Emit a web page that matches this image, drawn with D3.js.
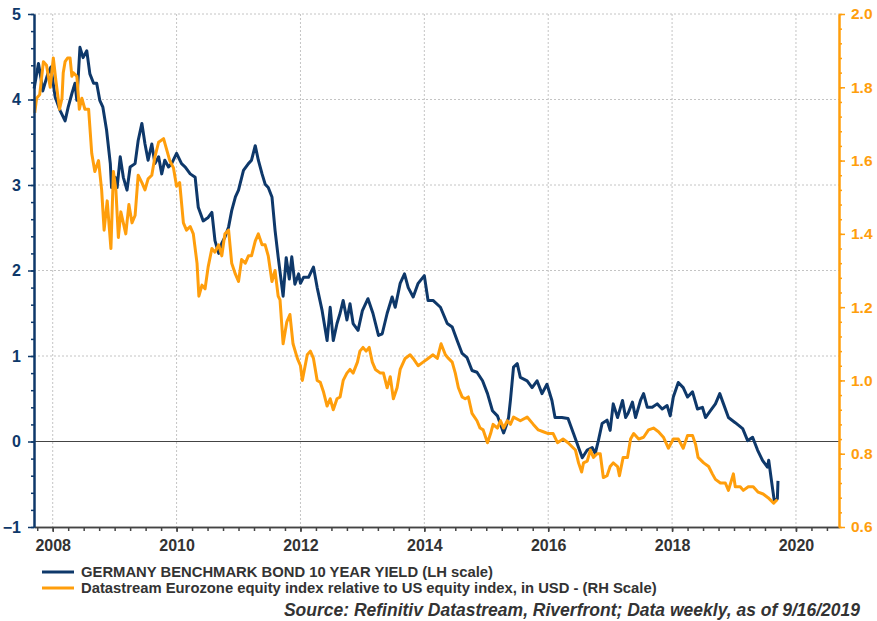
<!DOCTYPE html>
<html>
<head>
<meta charset="utf-8">
<script src="https://cdn.jsdelivr.net/npm/d3@7"></script>
<style>
body { margin: 0; background: #fff; }
svg { display: block; font-family: "Liberation Sans", Arial, sans-serif; }
</style>
</head>
<body>
<svg width="877" height="621"></svg>
<script>
// Germany 10y bund yield (LH scale), time as decimal years
const yieldT = [
    2007.70, 2007.77, 2007.81, 2007.84, 2007.92, 2007.97,
    2008.04, 2008.12, 2008.20, 2008.25, 2008.31, 2008.36, 2008.39, 2008.44, 2008.49, 2008.55, 2008.60, 2008.66, 2008.71, 2008.76, 2008.81, 2008.87, 2008.93, 2008.95,
    2009.01, 2009.04, 2009.09, 2009.14, 2009.20, 2009.25, 2009.33, 2009.38, 2009.44, 2009.49, 2009.54, 2009.60, 2009.65, 2009.71, 2009.76, 2009.81, 2009.87, 2009.92,
    2010.00, 2010.08, 2010.14, 2010.22, 2010.30, 2010.35, 2010.43, 2010.51, 2010.57, 2010.62, 2010.68, 2010.73, 2010.78, 2010.84, 2010.89, 2010.95,
    2011.00, 2011.08, 2011.16, 2011.21, 2011.27, 2011.32, 2011.38, 2011.43, 2011.48, 2011.54, 2011.59, 2011.64, 2011.72, 2011.77, 2011.82, 2011.86, 2011.91, 2011.97,
    2012.00, 2012.05, 2012.13, 2012.21, 2012.27, 2012.35, 2012.43, 2012.48, 2012.53, 2012.59, 2012.64, 2012.69, 2012.75, 2012.80, 2012.85, 2012.93,
    2013.00, 2013.09, 2013.17, 2013.26, 2013.32, 2013.40, 2013.48, 2013.53, 2013.61, 2013.68, 2013.74, 2013.82, 2013.90,
    2014.00, 2014.06, 2014.14, 2014.26, 2014.37, 2014.45, 2014.53, 2014.61, 2014.69, 2014.77, 2014.85, 2014.94,
    2015.02, 2015.10, 2015.18, 2015.28, 2015.32, 2015.36, 2015.39, 2015.44, 2015.50, 2015.55, 2015.66, 2015.74, 2015.82, 2015.90, 2015.98,
    2016.06, 2016.11, 2016.22, 2016.32, 2016.41, 2016.49, 2016.55, 2016.63, 2016.71, 2016.76, 2016.81, 2016.87, 2016.95,
    2017.00, 2017.05, 2017.12, 2017.20, 2017.25, 2017.29, 2017.36, 2017.41, 2017.49, 2017.54, 2017.60, 2017.68, 2017.76, 2017.84, 2017.92, 2017.97,
    2018.02, 2018.10, 2018.18, 2018.25, 2018.33, 2018.41, 2018.49, 2018.54, 2018.62, 2018.70, 2018.77, 2018.83, 2018.91,
    2019.02, 2019.14, 2019.22, 2019.30, 2019.38, 2019.46, 2019.54, 2019.56, 2019.62, 2019.65, 2019.70, 2019.71
];
const yieldV = [
    4.13, 4.42, 4.25, 4.10, 4.30, 4.38,
    4.03, 3.87, 3.75, 3.91, 4.07, 4.19, 3.99, 4.61, 4.49, 4.57, 4.30, 4.19, 4.19, 3.99, 3.91, 3.64, 3.25, 2.97,
    3.09, 2.97, 3.33, 3.09, 2.94, 3.21, 3.25, 3.52, 3.72, 3.48, 3.29, 3.48, 3.25, 3.33, 3.13, 3.29, 3.21, 3.25,
    3.37, 3.25, 3.21, 3.13, 3.09, 2.74, 2.58, 2.62, 2.68, 2.35, 2.20, 2.32, 2.39, 2.51, 2.70, 2.86,
    2.94, 3.17, 3.25, 3.29, 3.46, 3.29, 3.13, 3.01, 2.97, 2.86, 2.47, 2.16, 1.70, 2.15, 1.90, 2.16, 1.84, 1.96,
    1.85, 1.92, 1.92, 2.04, 1.80, 1.53, 1.18, 1.57, 1.18, 1.38, 1.50, 1.65, 1.42, 1.61, 1.38, 1.30,
    1.53, 1.67, 1.50, 1.24, 1.26, 1.50, 1.69, 1.57, 1.85, 1.96, 1.80, 1.69, 1.85,
    1.94, 1.65, 1.65, 1.57, 1.38, 1.34, 1.18, 1.03, 0.98, 0.83, 0.81, 0.71,
    0.56, 0.36, 0.30, 0.10, 0.18, 0.28, 0.48, 0.87, 0.91, 0.75, 0.71, 0.63, 0.71, 0.56, 0.67,
    0.48, 0.28, 0.28, 0.27, 0.09, -0.07, -0.19, -0.10, -0.07, -0.14, 0.01, 0.21, 0.25,
    0.13, 0.44, 0.28, 0.48, 0.28, 0.33, 0.46, 0.28, 0.48, 0.56, 0.40, 0.40, 0.44, 0.38, 0.42, 0.30,
    0.52, 0.69, 0.63, 0.52, 0.58, 0.38, 0.40, 0.28, 0.36, 0.44, 0.56, 0.44, 0.28,
    0.22, 0.15, 0.01, 0.05, -0.10, -0.22, -0.30, -0.22, -0.54, -0.69, -0.67, -0.46
];

// Eurozone vs US equity relative index (RH scale)
const equityT = [
    2007.71, 2007.74, 2007.79, 2007.85, 2007.90, 2007.96,
    2008.01, 2008.05, 2008.11, 2008.15, 2008.17, 2008.20, 2008.24, 2008.28, 2008.31, 2008.33, 2008.39, 2008.43, 2008.47, 2008.52, 2008.58, 2008.63, 2008.68, 2008.74, 2008.79, 2008.83, 2008.88, 2008.94, 2008.98,
    2009.02, 2009.06, 2009.10, 2009.14, 2009.18, 2009.23, 2009.28, 2009.33, 2009.38, 2009.44, 2009.49, 2009.54, 2009.60, 2009.65, 2009.71, 2009.79, 2009.84, 2009.89, 2009.95,
    2010.00, 2010.05, 2010.11, 2010.16, 2010.22, 2010.27, 2010.33, 2010.36, 2010.41, 2010.46, 2010.51, 2010.57, 2010.62, 2010.68, 2010.73, 2010.78, 2010.84, 2010.89, 2010.95,
    2011.00, 2011.05, 2011.11, 2011.16, 2011.21, 2011.27, 2011.32, 2011.38, 2011.43, 2011.48, 2011.54, 2011.59, 2011.64, 2011.67, 2011.72, 2011.78, 2011.83, 2011.88, 2011.95,
    2012.00, 2012.03, 2012.11, 2012.16, 2012.21, 2012.27, 2012.32, 2012.37, 2012.43, 2012.48, 2012.53, 2012.59, 2012.64, 2012.69, 2012.75, 2012.80, 2012.85, 2012.92, 2012.96,
    2013.01, 2013.06, 2013.11, 2013.16, 2013.21, 2013.29, 2013.34, 2013.40, 2013.45, 2013.50, 2013.56, 2013.61, 2013.69, 2013.77, 2013.82, 2013.90, 2013.98,
    2014.06, 2014.14, 2014.21, 2014.27, 2014.34, 2014.39, 2014.45, 2014.50, 2014.55, 2014.61, 2014.66, 2014.71, 2014.77, 2014.85, 2014.90, 2014.95,
    2015.02, 2015.07, 2015.11, 2015.18, 2015.23, 2015.28, 2015.34, 2015.39, 2015.44, 2015.55, 2015.66, 2015.76, 2015.84, 2015.92,
    2016.00, 2016.08, 2016.15, 2016.24, 2016.32, 2016.41, 2016.44, 2016.49, 2016.54, 2016.57, 2016.63, 2016.68, 2016.73, 2016.79, 2016.84, 2016.89, 2016.95,
    2017.00, 2017.05, 2017.12, 2017.15, 2017.21, 2017.28, 2017.33, 2017.38, 2017.46, 2017.54, 2017.62, 2017.70, 2017.78, 2017.86, 2017.94,
    2018.02, 2018.10, 2018.18, 2018.25, 2018.33, 2018.38, 2018.42, 2018.51, 2018.59, 2018.65, 2018.70, 2018.78, 2018.86, 2018.91, 2018.99,
    2019.02, 2019.10, 2019.15, 2019.23, 2019.31, 2019.39, 2019.47, 2019.55, 2019.64, 2019.70
];
const equityV = [
    1.73, 1.77, 1.78, 1.87, 1.86, 1.80,
    1.88, 1.82, 1.74, 1.77, 1.84, 1.87, 1.88, 1.88, 1.83, 1.84, 1.83, 1.74, 1.77, 1.74, 1.74, 1.62, 1.57, 1.60, 1.52, 1.41, 1.49, 1.36, 1.57,
    1.52, 1.39, 1.46, 1.43, 1.40, 1.48, 1.43, 1.45, 1.56, 1.54, 1.52, 1.55, 1.56, 1.61, 1.65, 1.66, 1.63, 1.60, 1.58,
    1.53, 1.54, 1.43, 1.41, 1.42, 1.40, 1.32, 1.23, 1.26, 1.25, 1.31, 1.36, 1.35, 1.37, 1.34, 1.40, 1.41, 1.32, 1.29,
    1.27, 1.33, 1.32, 1.34, 1.34, 1.38, 1.40, 1.37, 1.37, 1.34, 1.27, 1.30, 1.23, 1.22, 1.10, 1.16, 1.18, 1.10, 1.06,
    1.04, 1.00, 1.07, 1.08, 1.06, 1.00, 0.995, 0.97, 0.93, 0.95, 0.92, 0.95, 0.955, 1.00, 1.02, 1.03, 1.02, 1.05, 1.08,
    1.09, 1.08, 1.09, 1.05, 1.03, 1.02, 1.02, 0.98, 1.01, 0.95, 0.98, 1.03, 1.06, 1.07, 1.06, 1.04, 1.05,
    1.06, 1.07, 1.06, 1.10, 1.07, 1.06, 1.05, 1.02, 0.98, 0.955, 0.95, 0.955, 0.91, 0.89, 0.87, 0.865,
    0.83, 0.855, 0.88, 0.87, 0.89, 0.87, 0.89, 0.88, 0.90, 0.89, 0.90, 0.88, 0.865, 0.86,
    0.855, 0.855, 0.83, 0.84, 0.83, 0.815, 0.81, 0.775, 0.75, 0.775, 0.78, 0.81, 0.79, 0.80, 0.80, 0.735, 0.74,
    0.765, 0.775, 0.765, 0.74, 0.79, 0.79, 0.84, 0.855, 0.84, 0.845, 0.865, 0.87, 0.86, 0.845, 0.815,
    0.84, 0.84, 0.815, 0.85, 0.85, 0.825, 0.79, 0.775, 0.765, 0.745, 0.73, 0.72, 0.72, 0.70, 0.745,
    0.71, 0.71, 0.70, 0.71, 0.71, 0.695, 0.69, 0.68, 0.665, 0.675
];

const yearTicks = [2008, 2010, 2012, 2014, 2016, 2018, 2020];
const leftTicks = [-1, 0, 1, 2, 3, 4, 5];
const rightTicks = [0.6, 0.8, 1.0, 1.2, 1.4, 1.6, 1.8, 2.0];

const legendLabels = [
    'GERMANY BENCHMARK BOND 10 YEAR YIELD (LH scale)',
    'Datastream Eurozone equity index relative to US equity index, in USD - (RH Scale)'
];
const sourceText = 'Source: Refinitiv Datastream, Riverfront; Data weekly, as of 9/16/2019';

const navy = '#0e386a';
const orange = '#ff9e0c';

const svg = d3.select('svg');
const width = +svg.attr('width');
const height = +svg.attr('height');
const margin = { top: 14, right: 38, bottom: 94, left: 34 };
const innerWidth = width - margin.left - margin.right;
const innerHeight = height - margin.top - margin.bottom;

const xScale = d3.scaleLinear().domain([2007.698, 2020.695]).range([0, innerWidth]);
const yLeft = d3.scaleLinear().domain([-1, 5]).range([innerHeight, 0]);
const yRight = d3.scaleLinear().domain([0.6, 2.0]).range([innerHeight, 0]);

const g = svg.append('g')
    .attr('transform', `translate(${margin.left}, ${margin.top})`);

// gridlines
g.selectAll('.hgrid')
    .data([1, 2, 3, 4, 5])
    .enter().append('line')
    .attr('x1', 0).attr('x2', innerWidth)
    .attr('y1', d => yLeft(d)).attr('y2', d => yLeft(d))
    .attr('stroke', '#c4c4c4')
    .attr('stroke-dasharray', '2,2');

g.selectAll('.vgrid')
    .data(yearTicks)
    .enter().append('line')
    .attr('x1', d => xScale(d)).attr('x2', d => xScale(d))
    .attr('y1', 0).attr('y2', innerHeight)
    .attr('stroke', '#c4c4c4')
    .attr('stroke-dasharray', '2,2');

// zero line
g.append('line')
    .attr('x1', 0).attr('x2', innerWidth)
    .attr('y1', yLeft(0)).attr('y2', yLeft(0))
    .attr('stroke', '#444')
    .attr('stroke-width', 1.2);

// series
const yieldData = d3.zip(yieldT, yieldV);
const equityData = d3.zip(equityT, equityV);

g.append('path')
    .datum(yieldData)
    .attr('fill', 'none')
    .attr('stroke', navy)
    .attr('stroke-width', 3)
    .attr('stroke-linejoin', 'round')
    .attr('d', d3.line().x(d => xScale(d[0])).y(d => yLeft(d[1])));

g.append('path')
    .datum(equityData)
    .attr('fill', 'none')
    .attr('stroke', orange)
    .attr('stroke-width', 3)
    .attr('stroke-linejoin', 'round')
    .attr('d', d3.line().x(d => xScale(d[0])).y(d => yRight(d[1])));

// axes
const styleAxis = (axisG, color, lineWidth) => {
    axisG.attr('font-family', null).attr('font-size', null);
    axisG.select('.domain').attr('stroke', color).attr('stroke-width', lineWidth);
    axisG.selectAll('.tick line').attr('stroke', color).attr('stroke-width', 1.5);
};

const stepRange = (a, b, s) => d3.range(Math.round((b - a) / s) + 1).map(i => +(a + i * s).toFixed(3));

// minor ticks (no labels)
const xMinorG = g.append('g')
    .attr('transform', `translate(0, ${innerHeight})`)
    .call(d3.axisBottom(xScale).tickValues(stepRange(2007.75, 2020.5, 0.25)).tickSize(4).tickSizeOuter(0));
styleAxis(xMinorG, '#444', 1.5);
xMinorG.selectAll('text').remove();

const xAxisG = g.append('g')
    .attr('transform', `translate(0, ${innerHeight})`)
    .call(d3.axisBottom(xScale).tickValues(yearTicks).tickSize(5).tickSizeOuter(0).tickPadding(8).tickFormat(d3.format('d')));
styleAxis(xAxisG, '#444', 1.5);
xAxisG.selectAll('text')
    .attr('fill', '#333')
    .style('font-size', '16px')
    .style('font-weight', 'bold');

const yMinorG = g.append('g')
    .call(d3.axisLeft(yLeft).tickValues(stepRange(-1, 5, 0.2)).tickSize(3).tickSizeOuter(0));
styleAxis(yMinorG, navy, 2);
yMinorG.selectAll('text').remove();

const yLeftG = g.append('g')
    .call(d3.axisLeft(yLeft).tickValues(leftTicks).tickSize(6).tickSizeOuter(0).tickPadding(7).tickFormat(d3.format('d')));
styleAxis(yLeftG, navy, 2);
yLeftG.selectAll('text')
    .attr('fill', navy)
    .style('font-size', '16px')
    .style('font-weight', 'bold');

const yRightMinorG = g.append('g')
    .attr('transform', `translate(${innerWidth}, 0)`)
    .call(d3.axisRight(yRight).tickValues(stepRange(0.6, 2.0, 0.04)).tickSize(3).tickSizeOuter(0));
styleAxis(yRightMinorG, orange, 2);
yRightMinorG.selectAll('text').remove();

const yRightG = g.append('g')
    .attr('transform', `translate(${innerWidth}, 0)`)
    .call(d3.axisRight(yRight).tickValues(rightTicks).tickSize(6).tickSizeOuter(0).tickPadding(6).tickFormat(d3.format('.1f')));
styleAxis(yRightG, orange, 2);
yRightG.selectAll('text')
    .attr('fill', orange)
    .style('font-size', '15.5px')
    .style('font-weight', 'bold');

// legend
const legend = svg.append('g');
legend.selectAll('line')
    .data([navy, orange])
    .enter().append('line')
    .attr('x1', 42).attr('x2', 74)
    .attr('y1', (d, i) => 572 + i * 16)
    .attr('y2', (d, i) => 572 + i * 16)
    .attr('stroke', d => d)
    .attr('stroke-width', 3);

legend.selectAll('text')
    .data(legendLabels)
    .enter().append('text')
    .attr('x', 81)
    .attr('y', (d, i) => 577 + i * 16)
    .attr('fill', '#333')
    .style('font-size', '14.8px')
    .style('font-weight', 'bold')
    .text(d => d);

svg.append('text')
    .attr('x', 860)
    .attr('y', 616)
    .attr('text-anchor', 'end')
    .attr('fill', '#333')
    .style('font-size', '17.5px')
    .style('font-weight', 'bold')
    .style('font-style', 'italic')
    .text(sourceText);
</script>
</body>
</html>
